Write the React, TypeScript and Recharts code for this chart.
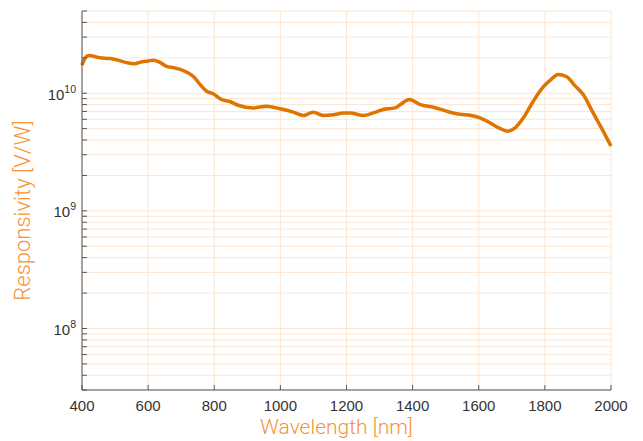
import React from 'react';
import { LineChart, Line, XAxis, YAxis, CartesianGrid } from 'recharts';

const wavelengths = [400, 410, 420, 455, 485, 505, 535, 560, 575, 600, 616, 636, 656, 676, 706, 737, 757, 777, 797, 822, 847, 872, 918, 958, 999, 1039, 1071, 1099, 1130, 1160, 1190, 1211, 1251, 1281, 1311, 1347, 1362, 1390, 1423, 1463, 1513, 1543, 1574, 1604, 1634, 1664, 1686, 1710, 1735, 1765, 1795, 1820, 1840, 1866, 1891, 1916, 1946, 1971, 2000];
const responsivity = [1.73e10, 2.0e10, 2.09e10, 2.0e10, 1.97e10, 1.92e10, 1.82e10, 1.78e10, 1.83e10, 1.88e10, 1.91e10, 1.83e10, 1.69e10, 1.65e10, 1.56e10, 1.39e10, 1.19e10, 1.04e10, 9.9e9, 8.84e9, 8.5e9, 7.9e9, 7.5e9, 7.76e9, 7.37e9, 6.9e9, 6.47e9, 6.9e9, 6.47e9, 6.55e9, 6.8e9, 6.8e9, 6.47e9, 6.8e9, 7.27e9, 7.5e9, 7.97e9, 8.84e9, 8.0e9, 7.6e9, 6.9e9, 6.63e9, 6.5e9, 6.18e9, 5.6e9, 5.02e9, 4.76e9, 5.08e9, 6.18e9, 8.55e9, 1.13e10, 1.32e10, 1.44e10, 1.38e10, 1.16e10, 9.75e9, 6.8e9, 5.08e9, 3.55e9];

const xTicks = [400, 600, 800, 1000, 1200, 1400, 1600, 1800, 2000];
const yTicks = [3e7, 4e7, 5e7, 6e7, 7e7, 8e7, 9e7, 1e8, 2e8, 3e8, 4e8, 5e8, 6e8, 7e8, 8e8, 9e8, 1e9, 2e9, 3e9, 4e9, 5e9, 6e9, 7e9, 8e9, 9e9, 1e10, 2e10, 3e10, 4e10, 5e10];
const yMajor = [1e8, 1e9, 1e10];
const yMajorExp = ['8', '9', '10'];

const data = wavelengths.map((w, i) => ({ w, r: responsivity[i] }));

const AXIS = '#555';
const LABEL = '#F7923A';
const LINE = '#E07400';
const LABEL_FONT = 'Roboto, sans-serif';

const BottomTick = (props: any) => {
  const { x, y, payload } = props;
  return (
    <text x={x} y={y + 21} textAnchor="middle" fontFamily="Liberation Sans, Arial, sans-serif" fontSize={15} fill="#333">{payload.value}</text>
  );
};

const LeftTick = (props: any) => {
  const { x, y, payload } = props;
  const idx = yMajor.findIndex((m) => Math.abs(m - payload.value) / m < 1e-6);
  if (idx < 0) return <g />;
  return (
    <text x={x - 6} y={y + 6.5} textAnchor="end" fontFamily="Liberation Sans, Arial, sans-serif" fontSize={15} fill="#333">
      <tspan>10</tspan>
      <tspan dy={-7} fontSize={10.5}>{yMajorExp[idx]}</tspan>
    </text>
  );
};

const XLabel = (props: any) => {
  const vb = props.viewBox || {};
  const cx = vb.x + vb.width / 2 - 10;
  return (
    <text x={cx} y={434} textAnchor="middle" fill={LABEL} fontSize={21} fontFamily={LABEL_FONT} fontWeight={300}>
      Wavelength [nm]
    </text>
  );
};

const YLabel = (props: any) => {
  const vb = props.viewBox || {};
  const cy = vb.y + vb.height / 2 + 10;
  const bx = 30;
  return (
    <text x={bx} y={cy} transform={`rotate(-90, ${bx}, ${cy})`} textAnchor="middle" fill={LABEL} fontSize={22} fontFamily={LABEL_FONT} fontWeight={300}>
      Responsivity [V/W]
    </text>
  );
};

export default function App() {
  return (
    <div style={{ position: 'absolute', left: 0, top: 0, background: '#fff' }}>
      <LineChart width={643} height={441} data={data} margin={{ top: 11, right: 32, left: 0, bottom: 0 }}>
        <CartesianGrid xAxisId="b" yAxisId="l" stroke="#FCE6D2" strokeWidth={1} horizontalValues={yTicks} verticalValues={xTicks} />
        <XAxis
          dataKey="w"
          type="number"
          domain={[400, 2000]}
          ticks={xTicks}
          xAxisId="b"
          height={51}
          tickSize={-5}
          tickMargin={5}
          tickLine={{ stroke: AXIS }}
          axisLine={{ stroke: AXIS }}
          tick={<BottomTick />}
          interval={0}
          label={<XLabel />}
        />
        <XAxis
          dataKey="w"
          type="number"
          domain={[400, 2000]}
          ticks={xTicks}
          xAxisId="t"
          orientation="top"
          height={0}
          tickSize={-5}
          tickMargin={0}
          tickLine={{ stroke: AXIS }}
          axisLine={{ stroke: AXIS }}
          tick={false}
          interval={0}
        />
        <YAxis
          yAxisId="l"
          scale="log"
          domain={[3e7, 5e10]}
          ticks={yTicks}
          allowDataOverflow
          width={82}
          tickSize={-5}
          tickMargin={5}
          tickLine={{ stroke: AXIS }}
          axisLine={{ stroke: AXIS }}
          tick={<LeftTick />}
          interval={0}
          label={<YLabel />}
        />
        <YAxis
          yAxisId="r"
          orientation="right"
          scale="log"
          domain={[3e7, 5e10]}
          ticks={yTicks}
          allowDataOverflow
          width={0}
          tickSize={-5}
          tickMargin={0}
          tickLine={{ stroke: AXIS }}
          axisLine={{ stroke: AXIS }}
          tick={false}
          interval={0}
        />
        <Line
          xAxisId="b"
          yAxisId="l"
          dataKey="r"
          type="monotone"
          stroke={LINE}
          strokeWidth={3.5}
          dot={false}
          isAnimationActive={false}
        />
      </LineChart>
    </div>
  );
}
